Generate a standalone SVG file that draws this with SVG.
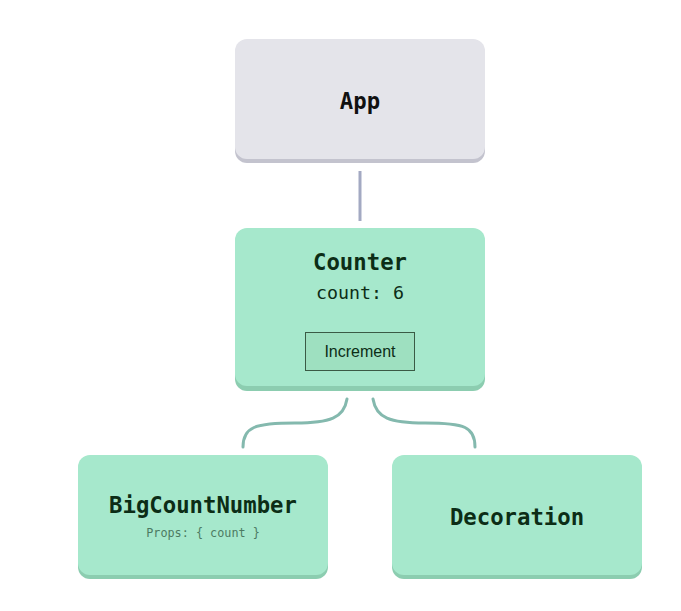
<svg xmlns="http://www.w3.org/2000/svg" width="681" height="611" viewBox="0 0 681 611">
<style>
.mono{font-family:"DejaVu Sans Mono","Liberation Mono",monospace;}
.title{font-size:22.3px;font-weight:bold;text-anchor:middle;}
.gfill{fill:#a6e8cc;}
.gshadow{fill:#8ccdb0;}
.gtext{fill:#0c2d16;}
.conn{fill:none;stroke:#84b9ae;stroke-width:3;stroke-linecap:round;}
</style>
<rect width="681" height="611" fill="#ffffff"/>
<g id="connectors">
<line x1="360" y1="171" x2="360" y2="221" stroke="#a3a9c2" stroke-width="3"/>
<path class="conn" d="M347,399 C344,418 330,423 295,423 C255,423 243,427 243,447"/>
<path class="conn" d="M373,399 C376,418 390,423 425,423 C465,423 475,427 475,447"/>
</g>
<g id="node-app">
<rect x="235" y="43" width="250" height="120" rx="12" fill="#c3c3ce"/>
<rect x="235" y="39" width="250" height="120" rx="12" fill="#e4e4ea"/>
<text class="mono title" x="360" y="109" fill="#111111">App</text>
</g>
<g id="node-counter">
<rect x="235" y="232" width="250" height="159" rx="12" class="gshadow"/>
<rect x="235" y="228" width="250" height="158" rx="12" class="gfill"/>
<text class="mono title gtext" x="360" y="270">Counter</text>
<text class="mono gtext" x="360" y="299" font-size="18.3" text-anchor="middle">count: 6</text>
<rect x="305.5" y="332.5" width="109" height="38" fill="#9ee0c0" stroke="#3a5a45" stroke-width="1"/>
<text x="360" y="357" font-family="'Liberation Sans',Arial,sans-serif" font-size="16" text-anchor="middle" fill="#0c2d16">Increment</text>
</g>
<g id="node-bigcountnumber">
<rect x="78" y="459" width="250" height="120" rx="12" class="gshadow"/>
<rect x="78" y="455" width="250" height="120" rx="12" class="gfill"/>
<text class="mono title gtext" x="203" y="513">BigCountNumber</text>
<text class="mono" x="203" y="537" font-size="11.8" text-anchor="middle" fill="#4c7a62">Props: { count }</text>
</g>
<g id="node-decoration">
<rect x="392" y="459" width="250" height="120" rx="12" class="gshadow"/>
<rect x="392" y="455" width="250" height="120" rx="12" class="gfill"/>
<text class="mono title gtext" x="517" y="525">Decoration</text>
</g>
</svg>
